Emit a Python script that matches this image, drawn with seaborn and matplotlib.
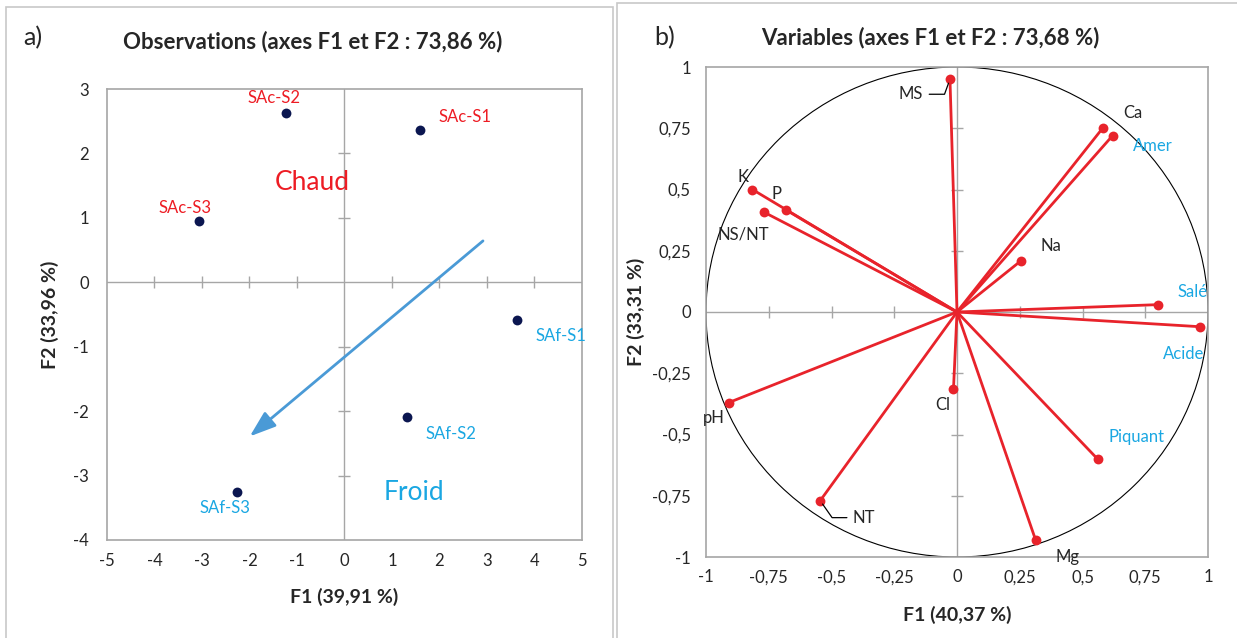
import numpy as np
import pandas as pd
import matplotlib
matplotlib.use("Agg")
import matplotlib.pyplot as plt
from matplotlib.patches import Rectangle, Circle, FancyArrowPatch
import seaborn as sns

# ---------------- data ----------------
obs_names = ["SAc-S1", "SAc-S2", "SAc-S3", "SAf-S1", "SAf-S2", "SAf-S3"]
obs_f1 = [1.59, -1.24, -3.06, 3.63, 1.32, -2.26]
obs_f2 = [2.36, 2.62, 0.95, -0.59, -2.09, -3.26]
obs_group = ["Chaud", "Chaud", "Chaud", "Froid", "Froid", "Froid"]
trend_start = (2.96, 0.67)
trend_end = (-2.04, -2.42)

var_names = ["MS", "Ca", "Amer", "K", "P", "NS/NT", "Na", "Salé", "Acide",
             "pH", "Cl", "Piquant", "NT", "Mg"]
var_f1 = [-0.028, 0.58, 0.62, -0.815, -0.68, -0.77, 0.256, 0.80, 0.967,
          -0.91, -0.014, 0.56, -0.545, 0.313]
var_f2 = [0.95, 0.75, 0.72, 0.50, 0.416, 0.408, 0.21, 0.03, -0.06,
          -0.37, -0.315, -0.60, -0.77, -0.93]
var_sensory = ["Amer", "Salé", "Acide", "Piquant"]

left_xticks = [-5, -4, -3, -2, -1, 0, 1, 2, 3, 4, 5]
left_yticks = [-4, -3, -2, -1, 0, 1, 2, 3]
right_ticks = [-1, -0.75, -0.5, -0.25, 0, 0.25, 0.5, 0.75, 1]
right_ticklabels = ["-1", "-0,75", "-0,5", "-0,25", "0", "0,25", "0,5", "0,75", "1"]

# ---------------- styles ----------------
RED = "#ED1C24"
BLUE = "#1AA7E2"
NAVY = "#0B1650"
ARROW = "#4A9AD6"
VRED = "#E8232B"
GRAY = "#A6A6A6"
TXT = "#262626"
TICK_FS = 12
LBL_FS = 12

sns.set_theme(style="white")
plt.rcParams["font.family"] = ["Lato", "DejaVu Sans"]

fig = plt.figure(figsize=(12.37, 6.38), dpi=100)

# panel frames
fig.patches.append(Rectangle((6 / 1237, -0.01), 607 / 1237, 1 - 7 / 638 + 0.01,
                             transform=fig.transFigure, fill=False,
                             edgecolor="#C8C8C8", lw=1.2))
fig.patches.append(Rectangle((617 / 1237, -0.01), 0.6, 1 - 3 / 638 + 0.01,
                             transform=fig.transFigure, fill=False,
                             edgecolor="#C8C8C8", lw=1.2))

# ---------------- left panel ----------------
axL = fig.add_axes([107 / 1237, 1 - 540 / 638, 475 / 1237, 451 / 638])
df_obs = pd.DataFrame({"F1": obs_f1, "F2": obs_f2, "name": obs_names, "group": obs_group})
axL.axhline(0, color=GRAY, lw=1, zorder=1)
axL.axvline(0, color=GRAY, lw=1, zorder=1)
xt_inner = [t for t in left_xticks if t not in (0, left_xticks[0], left_xticks[-1])]
yt_inner = [t for t in left_yticks if t not in (0, left_yticks[0], left_yticks[-1])]
axL.plot(xt_inner, [0] * len(xt_inner), ls="none", marker="|", ms=9, mew=1, color=GRAY, zorder=1)
axL.plot([0] * len(yt_inner), yt_inner, ls="none", marker="_", ms=9, mew=1, color=GRAY, zorder=1)
sns.scatterplot(data=df_obs, x="F1", y="F2", ax=axL, color=NAVY, s=50,
                edgecolor=NAVY, linewidth=0, zorder=3, legend=False)
obs_offsets = {"SAc-S1": (45, 13), "SAc-S2": (-12, 15), "SAc-S3": (-14, 13),
               "SAf-S1": (44, -16), "SAf-S2": (44, -17), "SAf-S3": (-12, -16)}
for n, x, y, g in zip(obs_names, obs_f1, obs_f2, obs_group):
    axL.annotate(n, (x, y), xytext=obs_offsets[n], textcoords="offset pixels",
                 ha="center", va="center", fontsize=LBL_FS,
                 color=RED if g == "Chaud" else BLUE)
axL.text(-0.67, 1.55, "Chaud", color=RED, fontsize=19, ha="center", va="center")
axL.text(1.47, -3.26, "Froid", color=BLUE, fontsize=19, ha="center", va="center")
axL.add_patch(FancyArrowPatch(trend_start, trend_end, arrowstyle="-|>,head_length=10,head_width=3.5",
                              color=ARROW, lw=2, mutation_scale=1.6, zorder=2))
axL.set_xlim(left_xticks[0], left_xticks[-1])
axL.set_ylim(left_yticks[0], left_yticks[-1])
axL.set_xticks(left_xticks)
axL.set_yticks(left_yticks)
axL.set_xticklabels([str(t) for t in left_xticks])
axL.set_yticklabels([str(t) for t in left_yticks])
axL.tick_params(axis="both", length=0, labelsize=TICK_FS, colors=TXT)
axL.tick_params(axis="y", pad=13)
axL.tick_params(axis="x", pad=9)
for s in axL.spines.values():
    s.set_color(GRAY)
    s.set_linewidth(1.2)
axL.set_xlabel("F1 (39,91 %)", fontsize=14, fontweight="bold", color=TXT, labelpad=14)
axL.set_ylabel("F2 (33,96 %)", fontsize=14, fontweight="bold", color=TXT, labelpad=10)
fig.text(313 / 1237, 1 - 42 / 638, "Observations (axes F1 et F2 : 73,86 %)",
         fontsize=16, fontweight="bold", color=TXT, ha="center", va="center")
fig.text(33 / 1237, 1 - 38 / 638, "a)", fontsize=18, color=TXT, ha="center", va="center")

# ---------------- right panel ----------------
axR = fig.add_axes([706 / 1237, 1 - 557 / 638, 502 / 1237, 490 / 638])
df_var = pd.DataFrame({"F1": var_f1, "F2": var_f2, "name": var_names})
axR.axhline(0, color=GRAY, lw=1, zorder=1)
axR.axvline(0, color=GRAY, lw=1, zorder=1)
rt_inner = [t for t in right_ticks if t not in (0, right_ticks[0], right_ticks[-1])]
axR.plot(rt_inner, [0] * len(rt_inner), ls="none", marker="|", ms=9, mew=1, color=GRAY, zorder=1)
axR.plot([0] * len(rt_inner), rt_inner, ls="none", marker="_", ms=9, mew=1, color=GRAY, zorder=1)
axR.add_patch(Circle((0, 0), 1, fill=False, edgecolor="black", lw=0.8, zorder=2))
for x, y in zip(var_f1, var_f2):
    axR.plot([0, x], [0, y], color=VRED, lw=2, zorder=3, solid_capstyle="round")
sns.scatterplot(data=df_var, x="F1", y="F2", ax=axR, color=VRED, s=50,
                edgecolor=VRED, linewidth=0, zorder=4, legend=False)
var_offsets = {"MS": (-39, -15), "Ca": (30, 15), "Amer": (40, -10), "K": (-9, 13),
               "P": (-10, 16), "NS/NT": (-20, -22), "Na": (30, 15), "Salé": (35, 13),
               "Acide": (-16, -27), "pH": (-15, -15), "Cl": (-11, -16),
               "Piquant": (39, 22), "NT": (44, -17), "Mg": (32, -17)}
leaders = {"MS": "angle,angleA=0,angleB=70,rad=0", "NT": "angle,angleA=0,angleB=-55,rad=0"}
for n, x, y in zip(var_names, var_f1, var_f2):
    col = BLUE if n in var_sensory else TXT
    kw = {}
    if n in leaders:
        kw["arrowprops"] = dict(arrowstyle="-", color="black", lw=0.9,
                                connectionstyle=leaders[n], shrinkA=2, shrinkB=3)
    axR.annotate(n, (x, y), xytext=var_offsets[n], textcoords="offset pixels",
                 ha="center", va="center", fontsize=LBL_FS, color=col, zorder=5, **kw)
axR.set_xlim(-1, 1)
axR.set_ylim(-1, 1)
axR.set_xticks(right_ticks)
axR.set_yticks(right_ticks)
axR.set_xticklabels(right_ticklabels)
axR.set_yticklabels(right_ticklabels)
axR.tick_params(axis="both", length=0, labelsize=TICK_FS, colors=TXT)
axR.tick_params(axis="y", pad=11)
axR.tick_params(axis="x", pad=9)
for s in axR.spines.values():
    s.set_color(GRAY)
    s.set_linewidth(1.2)
axR.set_xlabel("F1 (40,37 %)", fontsize=14, fontweight="bold", color=TXT, labelpad=15)
axR.set_ylabel("F2 (33,31 %)", fontsize=14, fontweight="bold", color=TXT, labelpad=5)
fig.text(930 / 1237, 1 - 38 / 638, "Variables (axes F1 et F2 : 73,68 %)",
         fontsize=16, fontweight="bold", color=TXT, ha="center", va="center")
fig.text(665 / 1237, 1 - 38 / 638, "b)", fontsize=18, color=TXT, ha="center", va="center")

fig.savefig("out.png", dpi=100)
